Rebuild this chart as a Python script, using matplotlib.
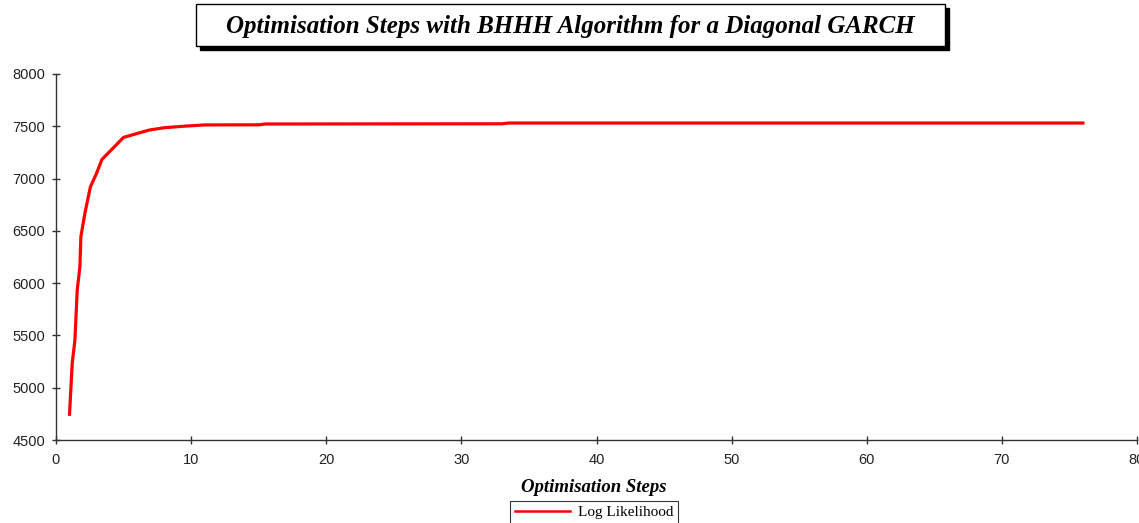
import matplotlib
matplotlib.use("Agg")
import matplotlib.pyplot as plt
from matplotlib.patches import Rectangle

# optimisation step vs log likelihood
steps = [1.0, 1.2, 1.4, 1.57, 1.77, 1.84, 2.16, 2.55, 3.0, 3.4, 5.0, 6.9, 8.0, 9.6,
         11.0, 15.0, 15.5, 33.0, 33.5, 76.0]
loglik = [4746, 5233, 5456, 5934, 6157, 6444, 6683, 6922, 7050, 7183, 7394, 7464,
          7486, 7502, 7513, 7514, 7522, 7524, 7531, 7531]

title = "Optimisation Steps with BHHH Algorithm for a Diagonal GARCH"
xlab = "Optimisation Steps"
series_name = "Log Likelihood"
xticks = [0, 10, 20, 30, 40, 50, 60, 70, 80]
yticks = [4500, 5000, 5500, 6000, 6500, 7000, 7500, 8000]

W, H = 1139, 523
fig = plt.figure(figsize=(W / 100, H / 100), dpi=100)
ax = fig.add_axes([56 / W, (H - 440) / H, (1137 - 56) / W, (440 - 74) / H])

line, = ax.plot(steps, loglik, color="#ff0000", lw=2.3, solid_joinstyle="round")
ax.set_xlim(0, 80)
ax.set_ylim(4500, 8000)
ax.set_xticks(xticks)
ax.set_yticks(yticks)

for s in ["top", "right"]:
    ax.spines[s].set_visible(False)
for s in ["left", "bottom"]:
    ax.spines[s].set_color("#333333")
    ax.spines[s].set_linewidth(1.0)
ax.tick_params(direction="inout", length=6, width=1.0, color="#333333",
               labelsize=10.5, labelcolor="#222222")
for lab in ax.get_xticklabels() + ax.get_yticklabels():
    lab.set_family("Liberation Sans")
ax.tick_params(axis="x", pad=6)
ax.tick_params(axis="y", pad=5)

# x label
fig.text(594 / W, 1 - 487 / H, xlab, ha="center", va="center",
         family="Liberation Serif", weight="bold", style="italic", fontsize=13.5)

# title box with shadow
bx0, by0, bx1, by1 = 196, 4, 945, 46
fig.patches.append(Rectangle(((bx0 + 4) / W, 1 - (by1 + 4) / H), (bx1 - bx0) / W,
                             (by1 - by0) / H, transform=fig.transFigure,
                             facecolor="black", edgecolor="black", zorder=1))
fig.patches.append(Rectangle((bx0 / W, 1 - by1 / H), (bx1 - bx0) / W,
                             (by1 - by0) / H, transform=fig.transFigure,
                             facecolor="white", edgecolor="black", lw=1.0, zorder=2))
fig.text((bx0 + bx1) / 2 / W, 1 - 27 / H, title, ha="center", va="center",
         family="Liberation Serif", weight="bold", style="italic", fontsize=18,
         zorder=3)

# legend box at the bottom
leg = fig.legend([line], [series_name], loc="upper center",
                 bbox_to_anchor=(594 / W, 1 - 501 / H), frameon=True,
                 fancybox=False, handlelength=3.6, handletextpad=0.5,
                 borderpad=0.3, borderaxespad=0,
                 prop={"family": "Liberation Serif", "size": 11})
leg.get_frame().set_edgecolor("black")
leg.get_frame().set_linewidth(0.8)
leg.legend_handles[0].set_linewidth(1.8)

fig.savefig("out.png", dpi=100)
